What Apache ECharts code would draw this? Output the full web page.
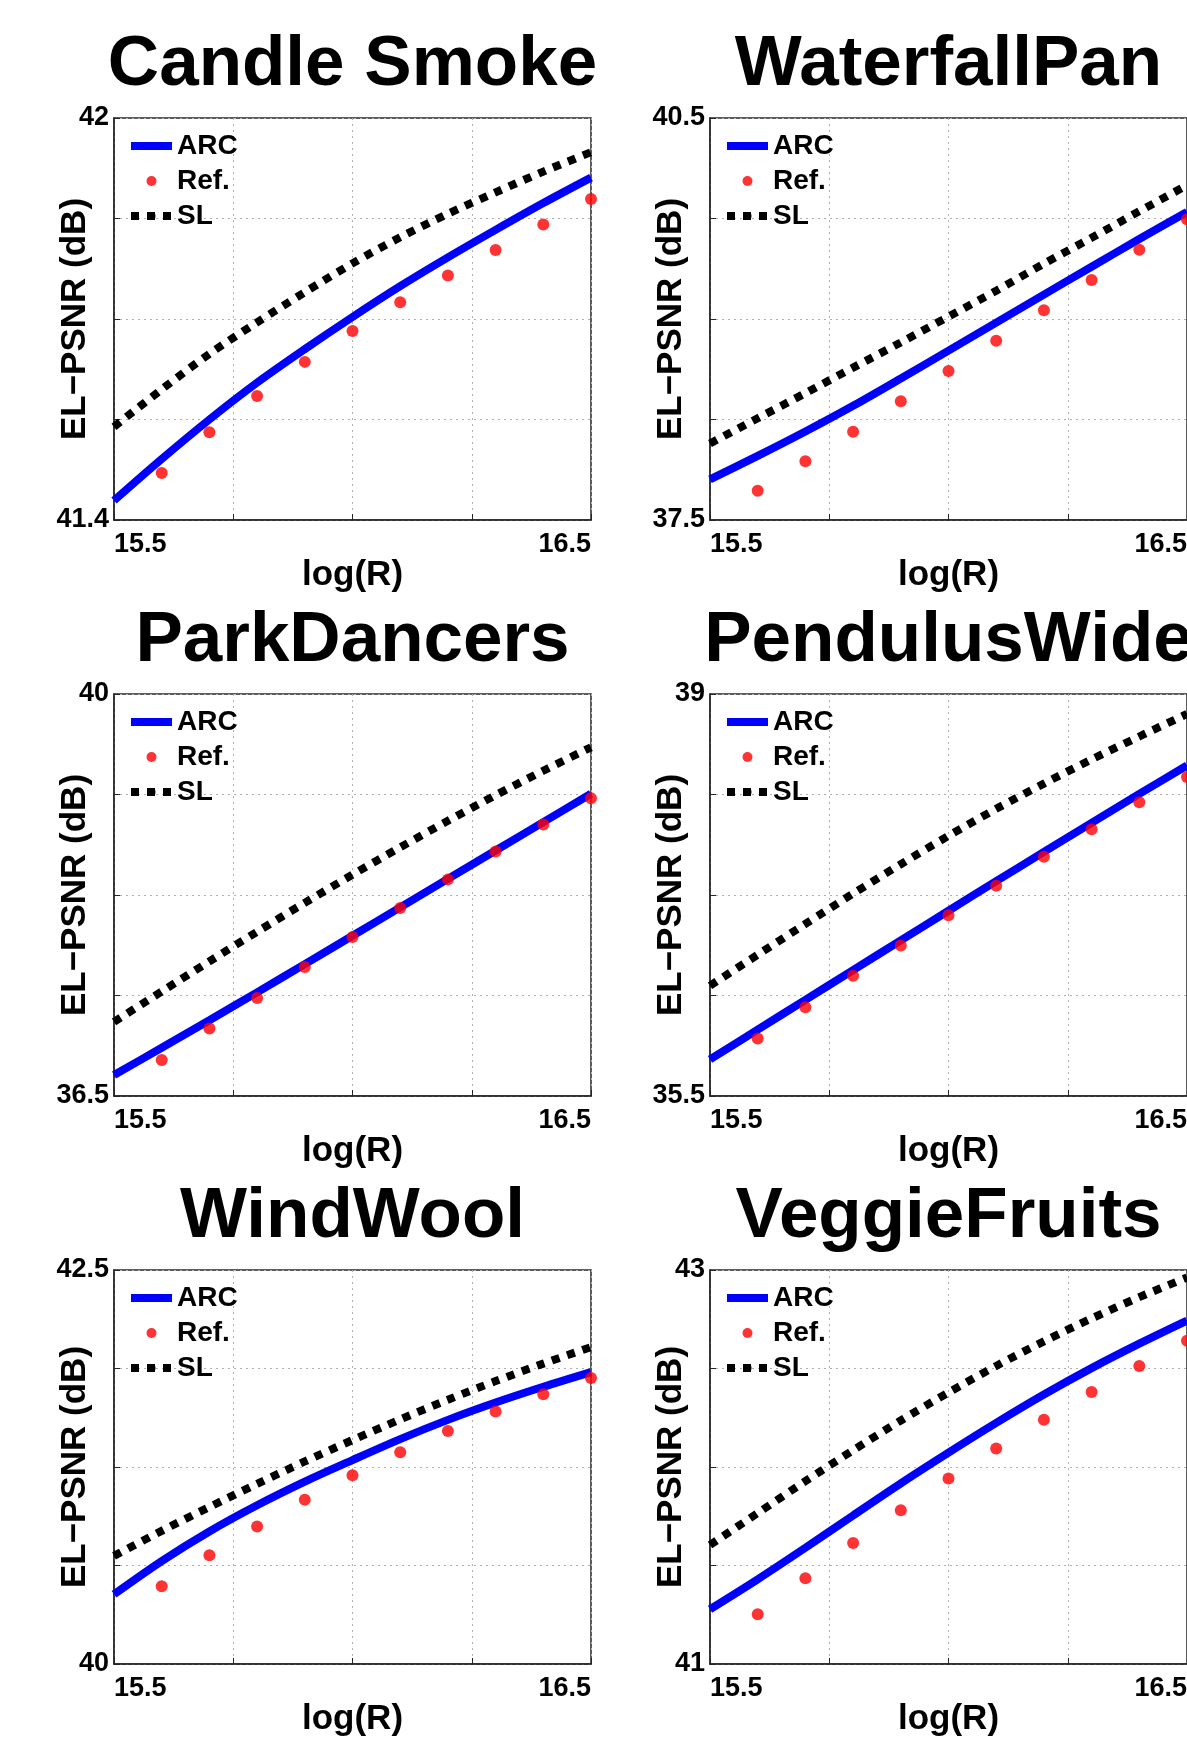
<!DOCTYPE html>
<html>
<head>
<meta charset="UTF-8">
<title>EL-PSNR vs log(R)</title>
<script src="https://cdn.jsdelivr.net/npm/echarts@6/dist/echarts.min.js"></script>
<style>
  html, body { margin: 0; padding: 0; overflow: hidden; background: #fff; }
  #chart { width: 1200px; height: 1738px; }
</style>
</head>
<body>
<div id="chart"></div>
<script>
// rate points (x) for the curves and for the reference dots
var logR = [15.5, 15.6, 15.7, 15.8, 15.9, 16.0, 16.1, 16.2, 16.3, 16.4, 16.5];
var refLogR = [15.6, 15.7, 15.8, 15.9, 16.0, 16.1, 16.2, 16.3, 16.4, 16.5];
var xTickLabels = [15.5, 16.5];

var titles = ['Candle Smoke', 'WaterfallPan', 'ParkDancers', 'PendulusWide', 'WindWool', 'VeggieFruits'];
var yMin = [41.4, 37.5, 36.5, 35.5, 40, 41];
var yMax = [42, 40.5, 40, 39, 42.5, 43];

// EL-PSNR (dB)
var candleArc = [41.429, 41.491, 41.550, 41.605, 41.655, 41.703, 41.749, 41.792, 41.833, 41.873, 41.911];
var candleRef = [41.470, 41.531, 41.585, 41.636, 41.682, 41.725, 41.765, 41.803, 41.841, 41.879];
var candleSl = [41.539, 41.595, 41.648, 41.695, 41.740, 41.783, 41.822, 41.857, 41.889, 41.920, 41.949];

var waterfallArc = [37.803, 37.978, 38.160, 38.352, 38.556, 38.764, 38.973, 39.182, 39.390, 39.597, 39.799];
var waterfallRef = [37.718, 37.939, 38.159, 38.386, 38.612, 38.838, 39.065, 39.291, 39.517, 39.744];
var waterfallSl = [38.071, 38.259, 38.447, 38.637, 38.825, 39.018, 39.211, 39.413, 39.606, 39.804, 39.998];

var parkArc = [36.682, 36.920, 37.160, 37.402, 37.648, 37.895, 38.142, 38.390, 38.637, 38.884, 39.131];
var parkRef = [36.813, 37.088, 37.354, 37.624, 37.885, 38.137, 38.386, 38.629, 38.864, 39.093];
var parkSl = [37.146, 37.410, 37.672, 37.930, 38.182, 38.427, 38.665, 38.896, 39.119, 39.332, 39.536];

var pendulusArc = [35.818, 36.078, 36.337, 36.596, 36.855, 37.113, 37.370, 37.625, 37.878, 38.130, 38.378];
var pendulusRef = [36.000, 36.272, 36.547, 36.810, 37.073, 37.331, 37.583, 37.823, 38.057, 38.277];
var pendulusSl = [36.460, 36.730, 36.998, 37.262, 37.518, 37.765, 38.000, 38.220, 38.430, 38.630, 38.826];

var windArc = [40.442, 40.653, 40.841, 41.007, 41.157, 41.294, 41.427, 41.549, 41.659, 41.759, 41.852];
var windRef = [40.493, 40.690, 40.872, 41.042, 41.197, 41.343, 41.478, 41.602, 41.712, 41.814];
var windSl = [40.686, 40.845, 40.996, 41.143, 41.285, 41.421, 41.552, 41.677, 41.795, 41.906, 42.011];

var veggieArc = [41.278, 41.430, 41.590, 41.754, 41.917, 42.073, 42.224, 42.368, 42.502, 42.626, 42.743];
var veggieRef = [41.253, 41.435, 41.614, 41.781, 41.942, 42.094, 42.240, 42.381, 42.513, 42.641];
var veggieSl = [41.604, 41.766, 41.928, 42.085, 42.236, 42.378, 42.513, 42.638, 42.754, 42.862, 42.962];

var arcData = [candleArc, waterfallArc, parkArc, pendulusArc, windArc, veggieArc];
var refData = [candleRef, waterfallRef, parkRef, pendulusRef, windRef, veggieRef];
var slData = [candleSl, waterfallSl, parkSl, pendulusSl, windSl, veggieSl];

var chart = echarts.init(document.getElementById('chart'));
var fontName = "'Liberation Sans', Arial, Helvetica, sans-serif";
var axisColor = '#262626';
var gridLine = { show: true, lineStyle: { type: [2, 4], color: '#b0b0b0', width: 1 } };

function pairs(xs, ys) {
    return ys.map(function (y, k) { return [xs[k], y]; });
}

var grids = [], xAxes = [], yAxes = [], titleList = [], legends = [], series = [];

for (var i = 0; i < titles.length; i++) {
    var gLeft = i % 2 === 0 ? 114 : 710;
    var gTop = 118 + 576 * Math.floor(i / 2);
    var gW = 477, gH = 402;

    grids.push({
        left: gLeft, top: gTop, width: gW, height: gH,
        show: true, borderColor: axisColor, borderWidth: 1.5
    });

    titleList.push({
        text: titles[i],
        left: gLeft + gW / 2,
        top: gTop - 88,
        textAlign: 'center',
        padding: 0,
        textStyle: { fontSize: 71, fontWeight: 'bold', color: '#000', fontFamily: fontName, lineHeight: 71 }
    });

    legends.push({
        orient: 'vertical',
        left: gLeft + 13,
        top: gTop + 13,
        padding: 0,
        itemGap: 5,
        itemWidth: 41,
        itemHeight: 10,
        data: ['ARC', 'Ref.', 'SL'],
        lineStyle: { width: 'inherit' },
        textStyle: { fontSize: 28, fontWeight: 'bold', color: '#000', fontFamily: fontName, lineHeight: 30 }
    });

    xAxes.push({
        type: 'value', gridIndex: i,
        min: 15.5, max: 16.5, interval: 0.25,
        name: 'log(R)', nameLocation: 'middle', nameGap: 38, nameMoveOverlap: false,
        nameTextStyle: { fontSize: 35, fontWeight: 'bold', color: '#000', fontFamily: fontName },
        axisLine: { show: true, lineStyle: { color: axisColor, width: 1.5 } },
        axisTick: { show: true, inside: true, length: 6, lineStyle: { color: axisColor } },
        axisLabel: {
            fontSize: 27, fontWeight: 'bold', color: '#000', fontFamily: fontName, margin: 11,
            alignMinLabel: 'left', alignMaxLabel: 'right',
            formatter: function (v) {
                for (var k = 0; k < xTickLabels.length; k++) {
                    if (Math.abs(v - xTickLabels[k]) < 1e-6) return xTickLabels[k].toFixed(1);
                }
                return '';
            }
        },
        splitLine: gridLine
    });

    (function (lo, hi) {
        yAxes.push({
            type: 'value', gridIndex: i,
            min: lo, max: hi, interval: (hi - lo) / 4,
            name: 'EL\u2212PSNR (dB)', nameLocation: 'middle', nameRotate: 90, nameGap: 21,
            nameMoveOverlap: false,
            nameTextStyle: { fontSize: 35, fontWeight: 'bold', color: '#000', fontFamily: fontName },
            axisLine: { show: true, lineStyle: { color: axisColor, width: 1.5 } },
            axisTick: { show: true, inside: true, length: 6, lineStyle: { color: axisColor } },
            axisLabel: {
                fontSize: 27, fontWeight: 'bold', color: '#000', fontFamily: fontName, margin: 5,
                formatter: function (v) {
                    if (Math.abs(v - lo) < 1e-6) return String(lo);
                    if (Math.abs(v - hi) < 1e-6) return String(hi);
                    return '';
                }
            },
            splitLine: gridLine
        });
    })(yMin[i], yMax[i]);

    series.push({
        name: 'ARC', type: 'line', xAxisIndex: i, yAxisIndex: i,
        data: pairs(logR, arcData[i]),
        symbol: 'none', smooth: 0.3,
        lineStyle: { color: '#0000ff', width: 8 },
        itemStyle: { color: '#0000ff' },
        z: 2
    });
    series.push({
        name: 'SL', type: 'line', xAxisIndex: i, yAxisIndex: i,
        data: pairs(logR, slData[i]),
        symbol: 'none', smooth: 0.3,
        lineStyle: { color: '#000', width: 8, type: 'dotted', cap: 'butt' },
        itemStyle: { color: '#000' },
        z: 2
    });
    series.push({
        name: 'Ref.', type: 'scatter', xAxisIndex: i, yAxisIndex: i,
        data: pairs(refLogR, refData[i]),
        symbol: 'circle', symbolSize: 12,
        itemStyle: { color: '#ff0000' },
        z: 3
    });
}

var option = {
    animation: false,
    backgroundColor: '#fff',
    title: titleList,
    legend: legends,
    grid: grids,
    xAxis: xAxes,
    yAxis: yAxes,
    series: series
};
chart.setOption(option);
</script>
</body>
</html>
